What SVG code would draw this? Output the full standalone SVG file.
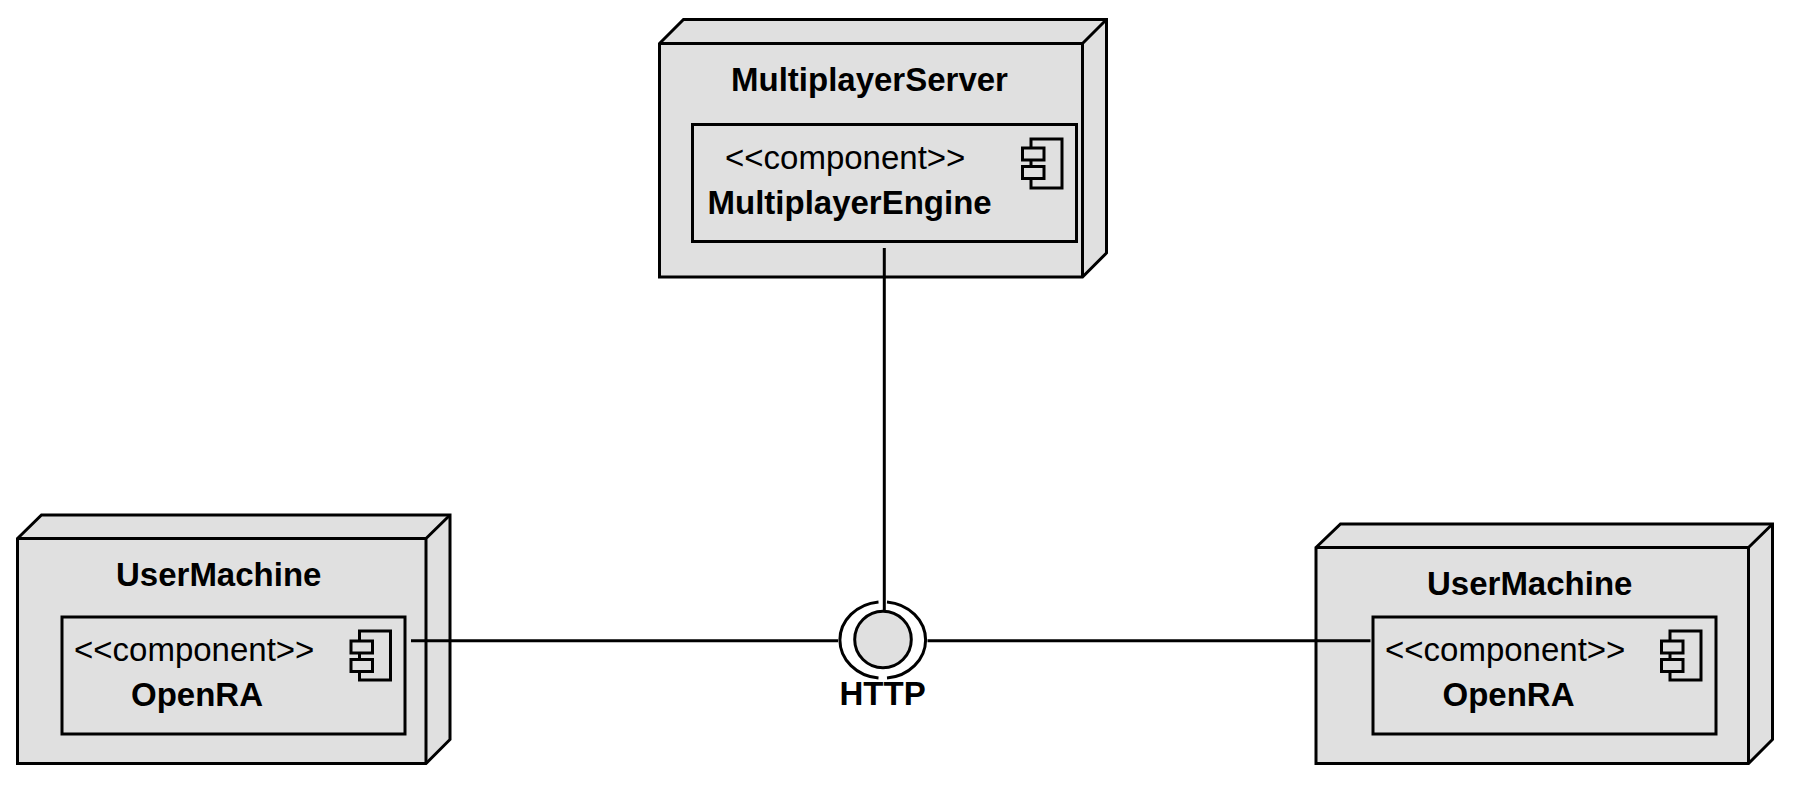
<svg xmlns="http://www.w3.org/2000/svg" width="1797" height="785" viewBox="0 0 1797 785">
<style>
.s{fill:#e0e0e0;stroke:#000;stroke-width:3;stroke-linejoin:miter}
.n{fill:none;stroke:#000;stroke-width:3}
text{font-family:"Liberation Sans",Arial,sans-serif;font-size:33px;fill:#000}
.b{font-weight:bold}
</style>
<rect width="1797" height="785" fill="#fff"/>
<g id="server">
<path class="s" d="M659.5 43.5L683.5 19.5H1106.5V253L1082.5 277H659.5Z"/>
<path class="n" d="M659.5 43.5H1082.5V277M1082.5 43.5L1106.5 19.5"/>
<text class="b" x="731" y="91">MultiplayerServer</text>
<g id="server-engine">
<rect class="s" x="692.5" y="124.5" width="384" height="117"/>
<text x="725" y="169">&lt;&lt;component&gt;&gt;</text>
<text class="b" x="707.5" y="214">MultiplayerEngine</text>
<rect class="s" x="1031" y="139" width="31" height="49"/>
<rect class="s" x="1022.5" y="148" width="21.5" height="12"/>
<rect class="s" x="1022.5" y="166.5" width="21.5" height="12"/>
</g>
</g>
<g id="user-left">
<path class="s" d="M17.5 538.5L41.5 515H450V739.5L426 763.5H17.5Z"/>
<path class="n" d="M17.5 538.5H426V763.5M426 538.5L450 515"/>
<text class="b" x="116" y="586">UserMachine</text>
<g id="openra-left">
<rect class="s" x="62" y="617" width="343" height="117"/>
<text x="74" y="661">&lt;&lt;component&gt;&gt;</text>
<text class="b" x="131" y="705.5">OpenRA</text>
<rect class="s" x="359.5" y="631" width="31" height="49"/>
<rect class="s" x="351" y="641" width="21.5" height="12"/>
<rect class="s" x="351" y="659.5" width="21.5" height="12"/>
</g>
</g>
<g id="user-right">
<path class="s" d="M1316 547.5L1340.5 524H1772.5V739.5L1748.5 763.5H1316Z"/>
<path class="n" d="M1316 547.5H1748.5V763.5M1748.5 547.5L1772.5 524"/>
<text class="b" x="1427" y="595">UserMachine</text>
<g id="openra-right">
<rect class="s" x="1373" y="617" width="343" height="117"/>
<text x="1385" y="661">&lt;&lt;component&gt;&gt;</text>
<text class="b" x="1442.5" y="705.5">OpenRA</text>
<rect class="s" x="1670" y="631" width="31" height="49"/>
<rect class="s" x="1661.5" y="641" width="21.5" height="12"/>
<rect class="s" x="1661.5" y="659.5" width="21.5" height="12"/>
</g>
</g>
<g id="http">
<circle class="s" cx="883" cy="639.5" r="28.3"/>
<path class="n" d="M878.5 601.9A43 38.3 0 0 0 878.5 678.1M887 601.9A43 38.3 0 0 1 887 678.1"/>
<text class="b" x="839.5" y="705">HTTP</text>
</g>
<g id="connectors">
<path class="n" d="M884.3 248V612"/>
<path class="n" d="M411 640.7H838"/>
<path class="n" d="M927.5 640.7H1370.5"/>
</g>
</svg>
